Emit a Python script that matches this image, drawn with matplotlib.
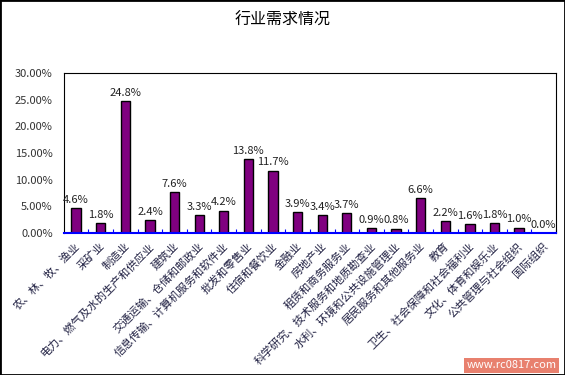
import numpy as np
import matplotlib.pyplot as plt
from matplotlib.patches import Rectangle

plt.rcParams['font.family'] = ['Noto Sans CJK SC', 'DejaVu Sans']

industries = ['农、林、牧、渔业', '采矿业', '制造业', '电力、燃气及水的生产和供应业', '建筑业',
              '交通运输、仓储和邮政业', '信息传输、计算机服务和软件业', '批发和零售业', '住宿和餐饮业',
              '金融业', '房地产业', '租赁和商务服务业', '科学研究、技术服务和地质勘查业',
              '水利、环境和公共设施管理业', '居民服务和其他服务业', '教育', '卫生、社会保障和社会福利业',
              '文化、体育和娱乐业', '公共管理与社会组织', '国际组织']
demand = [4.6, 1.8, 24.8, 2.4, 7.6, 3.3, 4.2, 13.8, 11.7, 3.9, 3.4, 3.7, 0.9, 0.8, 6.6,
          2.2, 1.6, 1.8, 1.0, 0.0]

fig = plt.figure(figsize=(5.65, 3.75), dpi=100)
fig.patches.append(Rectangle((0, 0), 1, 1, transform=fig.transFigure, fill=False,
                             edgecolor='black', linewidth=2))
ax = fig.add_axes([0.113, 0.379, 0.871, 0.426])

x = np.arange(len(industries))
ax.bar(x, demand, width=0.38, color='#800080', edgecolor='black', linewidth=1)
for xi, v in zip(x, demand):
    ax.text(xi, v + 0.6, f'{v:.1f}%', ha='center', va='bottom', fontsize=8, color='#222222')

ax.set_xlim(-0.5, len(industries) - 0.5)
ax.set_ylim(0, 30)
ax.set_yticks(np.arange(0, 31, 5))
ax.set_yticklabels([f'{t:.2f}%' for t in np.arange(0, 31, 5)], fontsize=8, color='#333333')
ax.tick_params(axis='y', length=0, pad=8)

ax.set_xticks(x + 0.5, minor=False)
ax.set_xticklabels([])
ax.tick_params(axis='x', direction='in', length=3, color='blue')
for xi, name in zip(x, industries):
    ax.text(xi - 0.05, -1.5, name, rotation=45, rotation_mode='anchor', ha='right', va='top',
            fontsize=8, color='#222244')

for s in ['top', 'right', 'left']:
    ax.spines[s].set_color('black')
ax.spines['bottom'].set_color('blue')
ax.spines['bottom'].set_linewidth(1.5)

fig.text(0.5, 0.945, '行业需求情况', ha='center', va='center', fontsize=11.5)
fig.text(0.985, 0.012, 'www.rc0817.com', fontsize=8, color='white', ha='right', va='bottom',
         bbox=dict(facecolor='#e8806e', edgecolor='none', pad=1.5))

fig.savefig('out.png', dpi=100)
